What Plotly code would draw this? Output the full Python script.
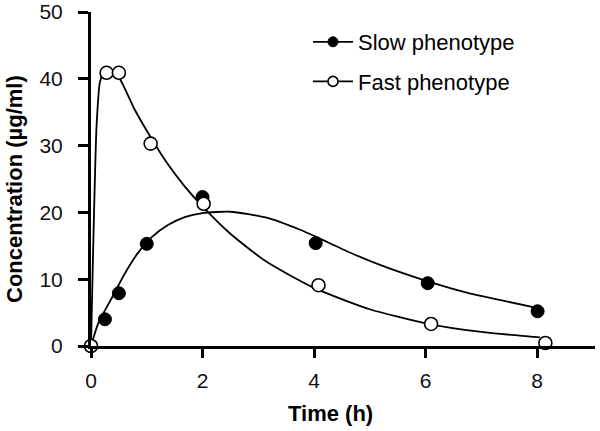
import plotly.graph_objects as go

# Observed data points
slow_t = [0, 0.25, 0.5, 1.0, 2.0, 4.03, 6.04, 8.01]
slow_c = [0, 4.0, 7.9, 15.3, 22.3, 15.4, 9.4, 5.2]
fast_t = [0, 0.28, 0.5, 1.07, 2.02, 4.08, 6.1, 8.15]
fast_c = [0, 40.9, 40.9, 30.3, 21.3, 9.1, 3.3, 0.45]

# Fitted curves
slow_fit_t = [0, 0.13, 0.38, 0.61, 0.84, 1.09, 1.38, 1.68, 2.0, 2.5, 3.15, 3.75, 4.05, 4.64, 5.23, 6.0, 6.74, 7.95]
slow_fit_c = [0, 3.4, 7.3, 10.9, 13.9, 16.3, 18.1, 19.3, 19.9, 20.1, 19.2, 17.4, 16.3, 14.0, 12.0, 9.8, 8.0, 5.8]
fast_fit_t = [0, 0.04, 0.07, 0.1, 0.16, 0.24, 0.35, 0.48, 0.79, 1.09, 1.38, 1.68, 2.0, 2.5, 3.15, 4.0, 5.0, 6.0, 7.0, 8.05]
fast_fit_c = [0, 15, 25, 33, 39.5, 41.1, 41.2, 40.5, 35.3, 31.0, 27.2, 23.9, 20.9, 16.8, 12.6, 8.7, 5.5, 3.4, 2.1, 1.3]

x_ticks = [0, 2, 4, 6, 8]
y_ticks = [0, 10, 20, 30, 40, 50]

FONT = "Liberation Sans, Arial, sans-serif"

FIG_W, FIG_H = 600, 431
ML, MT = 91, 12
MR = FIG_W - 595
MB = FIG_H - 346

fig = go.Figure()

fig.add_trace(go.Scatter(x=slow_fit_t, y=slow_fit_c, mode="lines",
                         line=dict(color="black", width=1.8, shape="spline", smoothing=0.6),
                         showlegend=False, cliponaxis=False, hoverinfo="skip"))
fig.add_trace(go.Scatter(x=fast_fit_t, y=fast_fit_c, mode="lines",
                         line=dict(color="black", width=1.8, shape="spline", smoothing=0.6),
                         showlegend=False, cliponaxis=False, hoverinfo="skip"))

fig.add_trace(go.Scatter(x=slow_t, y=slow_c, mode="markers",
                         marker=dict(color="black", size=13, line=dict(color="black", width=1)),
                         showlegend=False, cliponaxis=False))
fig.add_trace(go.Scatter(x=fast_t, y=fast_c, mode="markers",
                         marker=dict(color="white", size=13, line=dict(color="black", width=1.6)),
                         showlegend=False, cliponaxis=False))

# legend-only entries
fig.add_trace(go.Scatter(x=[None], y=[None], mode="lines+markers", name="Slow phenotype",
                         line=dict(color="black", width=1.8),
                         marker=dict(color="black", size=10, line=dict(color="black", width=1)),
                         legendgroup="a"))
fig.add_trace(go.Scatter(x=[None], y=[None], mode="lines+markers", name="Fast phenotype",
                         line=dict(color="black", width=1.8),
                         marker=dict(color="white", size=10, line=dict(color="black", width=1.6)),
                         legendgroup="b"))

W = FIG_W - ML - MR
H = FIG_H - MT - MB


def px_to_paper(px, py):
    return (px - 91) / W, (346 - py) / H


lx, ly = px_to_paper(308, 21)
tx, ty = px_to_paper(330, 413)
cx, cy = px_to_paper(14, 189)

fig.update_layout(
    width=FIG_W, height=FIG_H,
    margin=dict(l=ML, r=MR, t=MT, b=MB),
    paper_bgcolor="white", plot_bgcolor="white",
    font=dict(family=FONT, size=21, color="black"),
    showlegend=True,
    legend=dict(x=lx, y=ly, xanchor="left", yanchor="top",
                font=dict(family=FONT, size=22, color="black"),
                bgcolor="rgba(0,0,0,0)", tracegroupgap=8, itemwidth=40),
    xaxis=dict(range=[0, 9.04], tickmode="array", tickvals=x_ticks,
               ticktext=[str(v) for v in x_ticks], automargin=False,
               showgrid=False, zeroline=False, showline=True, linecolor="black", linewidth=3,
               ticks="outside", ticklen=9, tickwidth=2.5, tickcolor="black",
               ticklabelstandoff=5, ticklabeloverflow="allow",
               tickfont=dict(family=FONT, size=21, color="#111")),
    yaxis=dict(range=[0, 50], tickmode="array", tickvals=y_ticks,
               ticktext=[str(v) for v in y_ticks], automargin=False,
               showgrid=False, zeroline=False, showline=True, linecolor="black", linewidth=3,
               ticks="outside", ticklen=10, tickwidth=2.5, tickcolor="black",
               ticklabelstandoff=11, ticklabeloverflow="allow",
               tickfont=dict(family=FONT, size=21, color="#111")),
    annotations=[
        dict(text="<b>Time (h)</b>", x=tx, y=ty, xref="paper", yref="paper",
             xanchor="center", yanchor="middle",
             showarrow=False, font=dict(family=FONT, size=22, color="black")),
        dict(text="<b>Concentration (µg/ml)</b>", x=cx, y=cy, xref="paper", yref="paper",
             xanchor="center", yanchor="middle",
             showarrow=False, textangle=-90, font=dict(family=FONT, size=22, color="black")),
    ],
)

fig.write_html(
    "out.html",
    config={"displayModeBar": False},
    post_script="document.body.style.margin='0';document.body.style.padding='0';"
                "document.body.style.overflow='hidden';",
)
